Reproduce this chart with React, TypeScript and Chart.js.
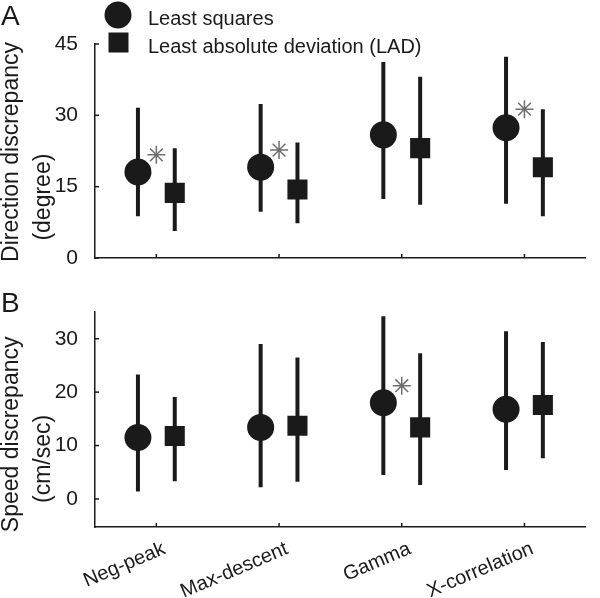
import React, { useEffect, useRef } from 'react';
import { Chart, registerables } from 'chart.js';

Chart.register(...registerables);

// ---------------- data ----------------
const categories = ['Neg-peak', 'Max-descent', 'Gamma', 'X-correlation'];
const seriesNames = ['Least squares', 'Least absolute deviation (LAD)'];

// Panel A: Direction discrepancy (degree)
const dirLSMedian = [18.1, 19.1, 25.9, 27.4];
const dirLSLow = [8.8, 9.7, 12.4, 11.4];
const dirLSHigh = [31.6, 32.4, 41.2, 42.3];
const dirLADMedian = [13.7, 14.4, 23.1, 19.1];
const dirLADLow = [5.7, 7.3, 11.2, 8.8];
const dirLADHigh = [23.1, 24.3, 38.1, 31.3];
const dirStars = [21.7, 22.7, null, 31.3];
const dirTicks = [0, 15, 30, 45];

// Panel B: Speed discrepancy (cm/sec)
const spdLSMedian = [11.5, 13.4, 18.0, 16.8];
const spdLSLow = [1.4, 2.2, 4.5, 5.4];
const spdLSHigh = [23.3, 29.0, 34.2, 31.4];
const spdLADMedian = [11.8, 13.7, 13.4, 17.6];
const spdLADLow = [3.3, 3.2, 2.6, 7.6];
const spdLADHigh = [19.1, 26.5, 27.3, 29.4];
const spdStars = [null, null, 21.2, null];
const spdTicks = [0, 10, 20, 30];

// ---------------- styles ----------------
const INK = '#1a1a1a';
const STAR = '#6e6e6e';
const FONT = '"Liberation Sans", Arial, Helvetica, sans-serif';
const OFFSET = 0.15;

function buildDatasets(
  lsMed: number[], lsLo: number[], lsHi: number[],
  ladMed: number[], ladLo: number[], ladHi: number[],
  stars: (number | null)[]
) {
  const ds: any[] = [];
  categories.forEach((_, i) => {
    ds.push({
      label: 'ls-range-' + i,
      data: [{ x: i - OFFSET, y: lsLo[i] }, { x: i - OFFSET, y: lsHi[i] }],
      showLine: true, borderColor: INK, borderWidth: 4, pointRadius: 0, borderCapStyle: 'butt', order: 2,
    });
    ds.push({
      label: 'lad-range-' + i,
      data: [{ x: i + OFFSET, y: ladLo[i] }, { x: i + OFFSET, y: ladHi[i] }],
      showLine: true, borderColor: INK, borderWidth: 4, pointRadius: 0, borderCapStyle: 'butt', order: 2,
    });
  });
  ds.push({
    label: seriesNames[0],
    data: categories.map((_, i) => ({ x: i - OFFSET, y: lsMed[i] })),
    pointStyle: 'circle', pointRadius: 13.5, backgroundColor: INK, borderWidth: 0, order: 1,
  });
  ds.push({
    label: seriesNames[1],
    data: categories.map((_, i) => ({ x: i + OFFSET, y: ladMed[i] })),
    pointStyle: 'rect', pointRadius: 14.2, backgroundColor: INK, borderWidth: 0, order: 1,
  });
  ds.push({
    label: 'significant',
    data: stars
      .map((v, i) => (v === null ? null : { x: i, y: v }))
      .filter((p) => p !== null),
    pointStyle: 'star', pointRadius: 9, borderColor: STAR, backgroundColor: STAR, borderWidth: 1.5, order: 0,
  });
  return ds;
}

// plugin: inward tick marks, panel letter, y titles, legend
function decorPlugin(cfg: {
  letter: string; letterY: number;
  titles: { text: string; value: number; x: number }[];
  legend: boolean;
}) {
  return {
    id: 'decor',
    afterDraw(chart: any) {
      const { ctx, chartArea } = chart;
      const xs = chart.scales.x;
      const ys = chart.scales.y;
      ctx.save();
      ctx.strokeStyle = INK;
      ctx.lineWidth = 1.5;
      xs.ticks.forEach((t: any) => {
        const px = xs.getPixelForValue(t.value);
        ctx.beginPath();
        ctx.moveTo(px, chartArea.bottom);
        ctx.lineTo(px, chartArea.bottom - 4);
        ctx.stroke();
      });
      ys.ticks.forEach((t: any) => {
        const py = ys.getPixelForValue(t.value);
        ctx.beginPath();
        ctx.moveTo(chartArea.left, py);
        ctx.lineTo(chartArea.left + 4, py);
        ctx.stroke();
      });

      ctx.fillStyle = INK;
      // panel letter
      ctx.font = `28px ${FONT}`;
      ctx.textAlign = 'left';
      ctx.textBaseline = 'alphabetic';
      ctx.fillText(cfg.letter, 1, cfg.letterY);

      // y titles
      ctx.font = `23px ${FONT}`;
      cfg.titles.forEach((t) => {
        const cy = ys.getPixelForValue(t.value);
        ctx.save();
        ctx.translate(t.x, cy);
        ctx.rotate(-Math.PI / 2);
        ctx.textAlign = 'center';
        ctx.textBaseline = 'alphabetic';
        ctx.fillText(t.text, 0, 0);
        ctx.restore();
      });

      if (cfg.legend) {
        ctx.beginPath();
        ctx.arc(118, 15, 13.5, 0, Math.PI * 2);
        ctx.fill();
        ctx.fillRect(108.5, 32.5, 20, 20);
        ctx.font = `20px ${FONT}`;
        ctx.textAlign = 'left';
        ctx.textBaseline = 'alphabetic';
        ctx.fillText(seriesNames[0], 148, 25);
        ctx.fillText(seriesNames[1], 148, 53);
      }
      ctx.restore();
    },
  };
}

function makeConfig(opts: {
  datasets: any[]; yMin: number; yMax: number; yTicks: number[];
  showX: boolean; xHeight: number; padTop: number; plugin: any;
}) {
  return {
    type: 'scatter' as const,
    data: { datasets: opts.datasets },
    options: {
      responsive: false,
      animation: false,
      events: [],
      layout: { padding: { top: opts.padTop, right: 1, bottom: 0, left: 0 } },
      plugins: { legend: { display: false }, tooltip: { enabled: false }, title: { display: false } },
      scales: {
        x: {
          type: 'linear',
          min: -0.5,
          max: 3.5,
          afterBuildTicks: (s: any) => {
            s.ticks = categories.map((_, i) => ({ value: i }));
          },
          afterFit: (s: any) => {
            s.height = opts.xHeight;
          },
          grid: { display: false },
          border: { display: true, color: INK, width: 1.5 },
          ticks: {
            display: opts.showX,
            autoSkip: false,
            minRotation: 23,
            maxRotation: 23,
            padding: 2,
            labelOffset: 8,
            color: INK,
            font: { family: FONT, size: 20 },
            callback: (v: any) => categories[Number(v)] ?? '',
          },
        },
        y: {
          type: 'linear',
          min: opts.yMin,
          max: opts.yMax,
          afterBuildTicks: (s: any) => {
            s.ticks = opts.yTicks.map((v) => ({ value: v }));
          },
          afterFit: (s: any) => {
            s.width = 95;
          },
          grid: { display: false },
          border: { display: true, color: INK, width: 1.5 },
          ticks: {
            padding: 9,
            color: INK,
            font: { family: FONT, size: 21 },
          },
        },
      },
    },
    plugins: [opts.plugin],
  };
}

export default function App() {
  const topRef = useRef<HTMLCanvasElement>(null);
  const botRef = useRef<HTMLCanvasElement>(null);

  useEffect(() => {
    const top = new Chart(topRef.current as HTMLCanvasElement, makeConfig({
      datasets: buildDatasets(dirLSMedian, dirLSLow, dirLSHigh, dirLADMedian, dirLADLow, dirLADHigh, dirStars),
      yMin: 0, yMax: 45, yTicks: dirTicks,
      showX: false, xHeight: 22, padTop: 44,
      plugin: decorPlugin({
        letter: 'A', letterY: 25,
        titles: [
          { text: 'Direction discrepancy', value: 22.3, x: 18 },
          { text: '(degree)', value: 12.8, x: 50 },
        ],
        legend: true,
      }),
    }) as any);
    const bot = new Chart(botRef.current as HTMLCanvasElement, makeConfig({
      datasets: buildDatasets(spdLSMedian, spdLSLow, spdLSHigh, spdLADMedian, spdLADLow, spdLADHigh, spdStars),
      yMin: -5.25, yMax: 35, yTicks: spdTicks,
      showX: true, xHeight: 71, padTop: 32,
      plugin: decorPlugin({
        letter: 'B', letterY: 32,
        titles: [
          { text: 'Speed discrepancy', value: 12.1, x: 18 },
          { text: '(cm/sec)', value: 7.5, x: 50 },
        ],
        legend: false,
      }),
    }) as any);
    return () => {
      top.destroy();
      bot.destroy();
    };
  }, []);

  return (
    <div style={{ position: 'absolute', left: 0, top: 0, width: 600, height: 598, background: '#fff' }}>
      <canvas ref={topRef} width={600} height={280} style={{ position: 'absolute', left: 0, top: 0 }} />
      <canvas ref={botRef} width={600} height={318} style={{ position: 'absolute', left: 0, top: 280 }} />
    </div>
  );
}
